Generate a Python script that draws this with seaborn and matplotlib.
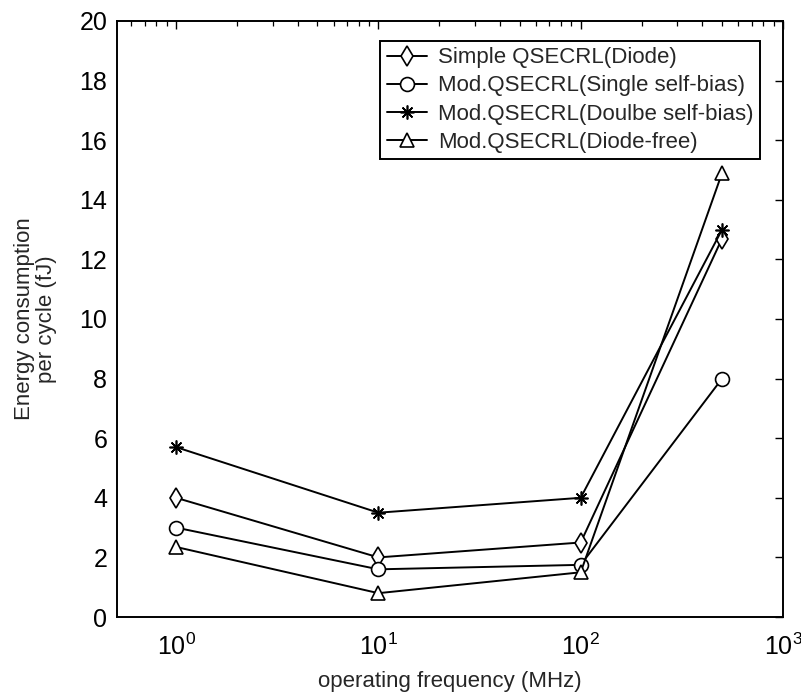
import matplotlib
matplotlib.use("Agg")
import matplotlib.pyplot as plt
import seaborn as sns
import pandas as pd

# Operating frequency (MHz) and energy per cycle (fJ) for each circuit variant
freq_mhz = [1, 10, 100, 500]
simple_diode = [4.0, 2.0, 2.5, 12.7]
single_self_bias = [3.0, 1.6, 1.75, 8.0]
double_self_bias = [5.7, 3.5, 4.0, 13.0]
diode_free = [2.35, 0.8, 1.5, 14.9]

series_names = [
    "Simple QSECRL(Diode)",
    "Mod.QSECRL(Single self-bias)",
    "Mod.QSECRL(Doulbe self-bias)",
    "Mod.QSECRL(Diode-free)",
]
series_values = [simple_diode, single_self_bias, double_self_bias, diode_free]
series_markers = ["d", "o", (8, 2, 0), "^"]

sns.set_theme(style="white")
plt.rcParams["font.family"] = ["Liberation Sans", "DejaVu Sans"]
plt.rcParams["mathtext.default"] = "regular"

fig = plt.figure(figsize=(8.01, 6.99), dpi=100)
ax = fig.add_axes([0.146, 0.1173, 0.8315, 0.8527])

for name, vals, mk in zip(series_names, series_values, series_markers):
    df = pd.DataFrame({"freq": freq_mhz, "energy": vals})
    sns.lineplot(
        data=df, x="freq", y="energy", ax=ax, color="black",
        marker=mk, markersize=10, markerfacecolor="white",
        markeredgecolor="black", markeredgewidth=1.2,
        linewidth=1.4, label=name, clip_on=False,
    )

ax.set_xscale("log")
ax.set_xlim(0.51, 1000)
ax.set_ylim(0, 20)
ax.set_yticks(range(0, 21, 2))
ax.set_xlabel("operating frequency (MHz)", fontsize=16, labelpad=8)
ax.set_ylabel("Energy consumption\nper cycle (fJ)", fontsize=16, labelpad=16,
              linespacing=1.1)

ax.tick_params(axis="both", which="both", direction="in", top=True, right=True,
               labelsize=18, colors="black")
ax.tick_params(which="major", length=6, width=1)
ax.tick_params(which="minor", length=3.5, width=0.9)
ax.tick_params(axis="x", pad=12)
ax.tick_params(axis="y", pad=7)
for sp in ax.spines.values():
    sp.set_visible(True)
    sp.set_color("black")
    sp.set_linewidth(1.4)

leg = ax.legend(
    loc="upper right", bbox_to_anchor=(0.966, 0.967), fontsize=16,
    frameon=True, fancybox=False, framealpha=1, edgecolor="black",
    handlelength=1.8, handletextpad=0.5, borderpad=0.3, labelspacing=0.32,
    borderaxespad=0,
)
leg.get_frame().set_linewidth(1.4)

fig.savefig("out.png", dpi=100)
